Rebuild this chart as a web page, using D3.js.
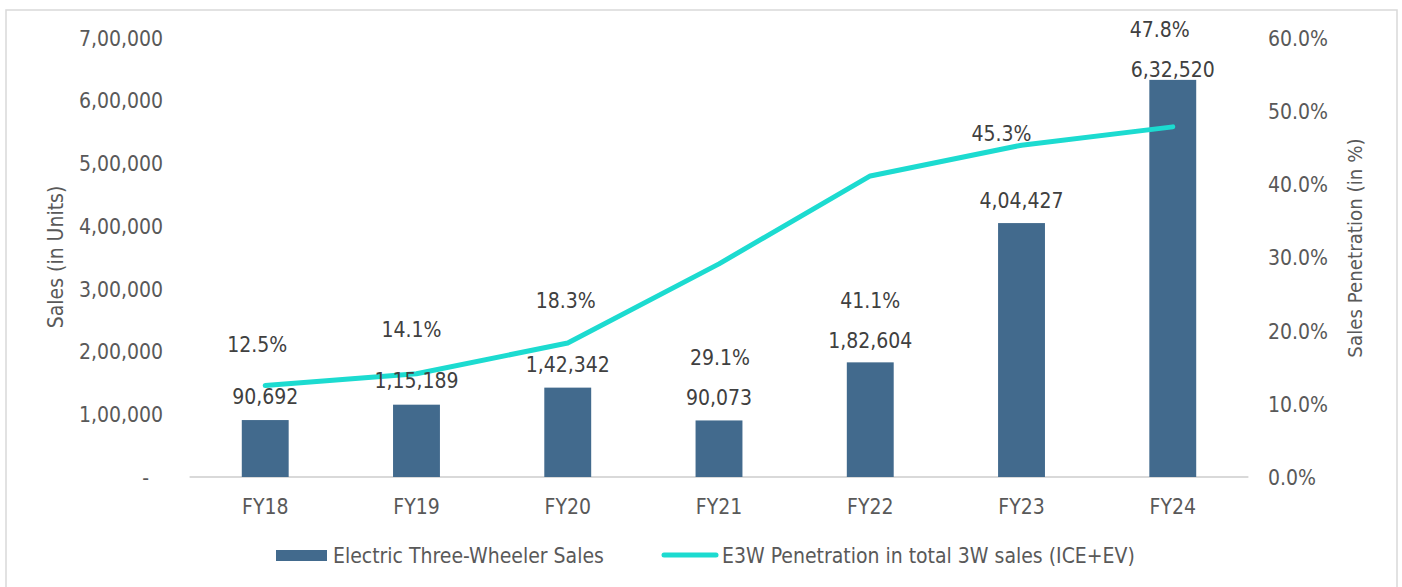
<!DOCTYPE html>
<html>
<head>
<meta charset="utf-8">
<script src="https://cdn.jsdelivr.net/npm/d3@7/dist/d3.min.js"></script>
<style>
  html, body { margin: 0; padding: 0; background: #ffffff; }
  svg text { font-family: "DejaVu Sans Condensed", "DejaVu Sans", sans-serif; font-stretch: condensed; }
</style>
</head>
<body>
<svg id="chart" width="1402" height="587"></svg>
<script>
// ---- data ----
const categories = ["FY18", "FY19", "FY20", "FY21", "FY22", "FY23", "FY24"];
const salesUnits = [90692, 115189, 142342, 90073, 182604, 404427, 632520];
const penetrationPct = [12.5, 14.1, 18.3, 29.1, 41.1, 45.3, 47.8];
const leftTickValues = [0, 100000, 200000, 300000, 400000, 500000, 600000, 700000];
const rightTickValues = [0, 10, 20, 30, 40, 50, 60];
const seriesNames = ["Electric Three-Wheeler Sales", "E3W Penetration in total 3W sales (ICE+EV)"];
const axisTitles = ["Sales (in Units)", "Sales Penetration (in %)"];

// label placement (pixels, styling only)
const barLabelDy = [-24, -24, -23, -23, -22, -23, -10];
const pctLabelDy = [-41, -44, -43, 94, 124, -12, -97];
const pctLabelDx = [-8, -5, -2, 1, 0, -20, -13];

// ---- helpers ----
function indianFormat(n) {
  const s = String(Math.round(n));
  if (s.length <= 3) return s;
  const last3 = s.slice(-3);
  let rest = s.slice(0, -3);
  const parts = [];
  while (rest.length > 2) { parts.unshift(rest.slice(-2)); rest = rest.slice(0, -2); }
  if (rest.length) parts.unshift(rest);
  return parts.join(",") + "," + last3;
}

const svg = d3.select("#chart");

// frame
svg.append("rect").attr("x", 6).attr("y", 10).attr("width", 1391).attr("height", 600)
  .attr("fill", "none").attr("stroke", "#d9d9d9").attr("stroke-width", 1.5);

const x = d3.scaleBand().domain(categories).range([189.6, 1248.4])
  .paddingInner(0.69).paddingOuter(0.345);
const yL = d3.scaleLinear().domain([0, 700000]).range([477, 37.5]);
const yR = d3.scaleLinear().domain([0, 60]).range([477, 37.5]);

const tickColor = "#595959", labelColor = "#404040", fs = 21;

// left axis
const leftAxis = d3.axisLeft(yL).tickValues(leftTickValues)
  .tickFormat(d => d === 0 ? "-" : indianFormat(d)).tickSize(0).tickPadding(0);
const gL = svg.append("g").attr("transform", "translate(163,0)").call(leftAxis);
gL.select(".domain").remove();
gL.selectAll("text").attr("fill", tickColor).style("font-size", fs + "px")
  .attr("dy", "0.36em").attr("x", d => d === 0 ? -14 : 0);

// right axis
const rightAxis = d3.axisRight(yR).tickValues(rightTickValues)
  .tickFormat(d => d.toFixed(1) + "%").tickSize(0).tickPadding(0);
const gR = svg.append("g").attr("transform", "translate(1268,0)").call(rightAxis);
gR.select(".domain").remove();
gR.selectAll("text").attr("fill", tickColor).style("font-size", fs + "px").attr("dy", "0.36em");

// bottom axis
const bottomAxis = d3.axisBottom(x).tickSize(0).tickPadding(0);
const gB = svg.append("g").attr("transform", "translate(0,477)").call(bottomAxis);
gB.select(".domain").attr("stroke", "#d9d9d9").attr("stroke-width", 2)
  .attr("d", "M189.6,0H1248.4");
gB.selectAll("text").attr("fill", tickColor).style("font-size", fs + "px")
  .attr("y", 29).attr("dy", "0.36em");

// axis titles
svg.append("text").attr("transform", "translate(55,257) rotate(-90)")
  .attr("text-anchor", "middle").attr("dy", "0.36em")
  .attr("fill", tickColor).style("font-size", "21px").text(axisTitles[0]);
svg.append("text").attr("transform", "translate(1355,248) rotate(-90)")
  .attr("text-anchor", "middle").attr("dy", "0.36em")
  .attr("fill", tickColor).style("font-size", "20.3px").text(axisTitles[1]);

// bars
const barColor = "#426A8D", lineColor = "#1CDBD0";
svg.append("g").selectAll("rect").data(salesUnits).join("rect")
  .attr("x", (d, i) => x(categories[i]))
  .attr("width", x.bandwidth())
  .attr("y", d => yL(d))
  .attr("height", d => yL(0) - yL(d))
  .attr("fill", barColor);

// line
const line = d3.line()
  .x((d, i) => x(categories[i]) + x.bandwidth() / 2)
  .y(d => yR(d));
svg.append("path").datum(penetrationPct).attr("d", line)
  .attr("fill", "none").attr("stroke", lineColor).attr("stroke-width", 5)
  .attr("stroke-linecap", "round").attr("stroke-linejoin", "round");

// bar labels
svg.append("g").selectAll("text").data(salesUnits).join("text")
  .attr("x", (d, i) => x(categories[i]) + x.bandwidth() / 2)
  .attr("y", (d, i) => yL(d) + barLabelDy[i])
  .attr("dy", "0.36em").attr("text-anchor", "middle")
  .attr("fill", labelColor).style("font-size", fs + "px")
  .text(d => indianFormat(d));

// penetration labels
svg.append("g").selectAll("text").data(penetrationPct).join("text")
  .attr("x", (d, i) => x(categories[i]) + x.bandwidth() / 2 + pctLabelDx[i])
  .attr("y", (d, i) => yR(d) + pctLabelDy[i])
  .attr("dy", "0.36em").attr("text-anchor", "middle")
  .attr("fill", labelColor).style("font-size", fs + "px")
  .text(d => d.toFixed(1) + "%");

// legend
const lg = svg.append("g");
lg.append("rect").attr("x", 276).attr("y", 550).attr("width", 51).attr("height", 11).attr("fill", barColor);
lg.append("text").attr("x", 333).attr("y", 555).attr("dy", "0.36em")
  .attr("fill", tickColor).style("font-size", "21px").text(seriesNames[0]);
lg.append("line").attr("x1", 664).attr("x2", 716).attr("y1", 555).attr("y2", 555)
  .attr("stroke", lineColor).attr("stroke-width", 5).attr("stroke-linecap", "round");
lg.append("text").attr("x", 722).attr("y", 555).attr("dy", "0.36em")
  .attr("fill", tickColor).style("font-size", "21px").text(seriesNames[1]);
</script>
</body>
</html>
